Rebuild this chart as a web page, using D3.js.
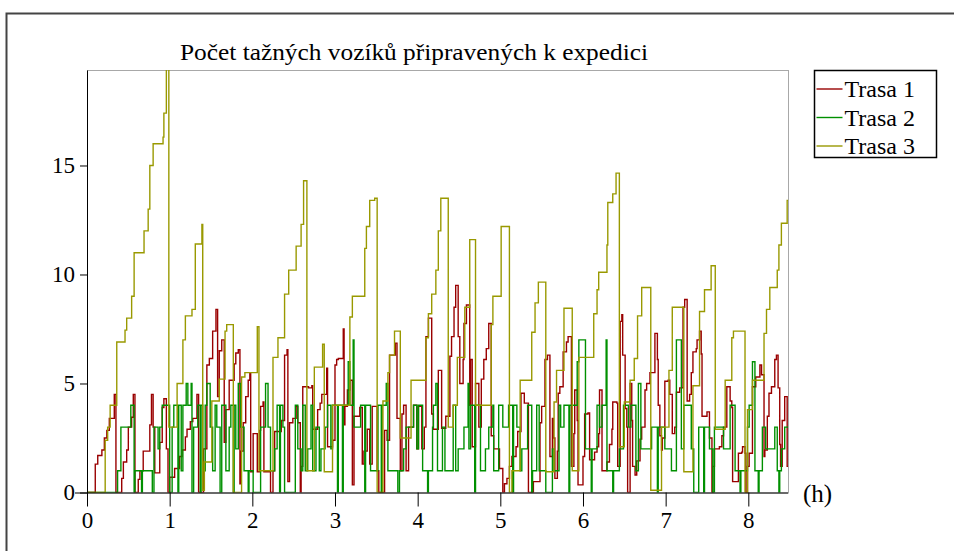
<!DOCTYPE html>
<html>
<head>
<meta charset="utf-8">
<script src="https://cdn.jsdelivr.net/npm/d3@7"></script>
<style>
  body { margin: 0; background: #fff; }
  svg { display: block; }
  text { font-family: "Liberation Serif", "Times New Roman", serif; fill: #000; }
</style>
</head>
<body>
<div id="wrapper"></div>
<script>
// data: [hours, count], drawn as step lines
const seriesNames = ["Trasa 1", "Trasa 2", "Trasa 3"]
const seriesColors = ["#990000", "#009000", "#999900"]

const trasa1 = [[0,0],[.10,1.3],[.13,1.7],[.18,1.95],[.21,2.5],[.24,2.85],[.27,3.4],[.33,4.5],[.35,0],[.42,.65],[.44,1.4],[.48,1.95],[.50,3.0],[.54,3.45],[.56,4.5],[.58,0],[.62,.6],[.64,1.0],[.68,1.9],[.76,3.1],[.78,4.5],[.80,3.0],[.82,.9],[.88,2.3],[.91,3.9],[.93,4.3],[.96,2.0],[.98,0],[1.00,.7],[1.06,1.1],[1.12,1.65],[1.15,1.95],[1.19,2.55],[1.21,2.9],[1.25,3.25],[1.28,3.4],[1.33,4.5],[1.35,0],[1.41,2.0],[1.45,5.85],[1.48,6.15],[1.52,7.4],[1.56,8.4],[1.58,4.4],[1.60,6.5],[1.63,7.0],[1.66,2.3],[1.68,3.8],[1.72,5.15],[1.78,5.9],[1.80,6.4],[1.83,6.55],[1.85,.4],[1.86,1.9],[1.89,3.2],[1.92,4.4],[1.95,5.15],[1.97,5.45],[1.98,.95],[2.01,2.7],[2.06,.95],[2.09,2.85],[2.10,3.95],[2.13,4.15],[2.14,.95],[2.22,0],[2.25,1.0],[2.27,2.8],[2.35,3.3],[2.39,6.3],[2.42,6.55],[2.43,.5],[2.45,3.2],[2.49,3.4],[2.53,3.95],[2.55,3.2],[2.58,0],[2.59,1.2],[2.61,4.85],[2.68,4.8],[2.72,4.9],[2.73,2.9],[2.79,3.8],[2.82,4.1],[2.84,4.5],[2.90,5.7],[2.91,2.1],[2.97,2.4],[3.00,5.85],[3.02,6.1],[3.04,6.15],[3.10,7.5],[3.11,3.1],[3.12,3.95],[3.15,4.7],[3.18,5.15],[3.21,.35],[3.23,3.5],[3.30,3.9],[3.33,1.3],[3.35,1.9],[3.39,2.9],[3.42,1.3],[3.45,3.95],[3.51,1.0],[3.53,0],[3.60,2.85],[3.63,2.4],[3.66,6.3],[3.73,6.85],[3.75,3.4],[3.79,1.0],[3.81,3.6],[3.83,4.0],[3.86,1.0],[3.89,3.0],[3.95,4.0],[3.99,2.0],[4.01,3.95],[4.05,2.0],[4.08,3.0],[4.10,7.15],[4.13,8.0],[4.17,3.6],[4.19,2.9],[4.25,5.6],[4.29,2.95],[4.34,3.5],[4.39,6.25],[4.41,7.15],[4.44,8.5],[4.46,9.5],[4.49,7.15],[4.51,5.0],[4.55,6.1],[4.56,7.75],[4.59,8.6],[4.63,4.0],[4.64,6.1],[4.66,2.1],[4.70,5.0],[4.74,3.0],[4.77,5.2],[4.80,6.1],[4.83,6.6],[4.86,7.75],[4.89,2.6],[4.92,2.0],[4.99,1.1],[5.03,0],[5.05,.4],[5.08,.65],[5.11,1.2],[5.14,1.65],[5.19,2.1],[5.21,2.8],[5.25,4.55],[5.29,4.1],[5.34,0],[5.40,.5],[5.48,3.2],[5.50,3.95],[5.54,6.1],[5.57,6.3],[5.60,1.65],[5.63,3.4],[5.64,2.5],[5.66,.65],[5.69,1.9],[5.70,4.55],[5.72,4.85],[5.76,6.45],[5.80,6.9],[5.82,7.15],[5.86,1.2],[5.89,2.7],[5.90,4.7],[5.93,3.3],[5.94,.35],[6.00,1.65],[6.02,3.6],[6.06,3.65],[6.08,1.5],[6.14,1.85],[6.17,2.1],[6.19,2.7],[6.20,4.7],[6.23,1.0],[6.29,1.4],[6.32,2.2],[6.35,2.9],[6.36,4.15],[6.41,4.1],[6.42,1.2],[6.45,7.85],[6.47,8.15],[6.48,6.3],[6.51,3.85],[6.53,3.0],[6.54,0],[6.57,5.0],[6.59,3.3],[6.60,1.2],[6.63,.8],[6.65,1.45],[6.69,2.45],[6.71,3.0],[6.75,4.7],[6.77,5.0],[6.81,5.5],[6.87,7.3],[6.90,6.1],[6.91,4.0],[6.93,2.6],[6.95,1.95],[6.96,2.5],[6.99,5.1],[7.03,5.15],[7.05,4.5],[7.08,2.7],[7.11,3.0],[7.13,4.6],[7.17,4.8],[7.21,8.5],[7.23,8.85],[7.26,4.2],[7.29,4.5],[7.31,5.5],[7.33,6.45],[7.37,6.6],[7.38,7.0],[7.41,7.4],[7.43,6.35],[7.44,3.5],[7.50,3.7],[7.53,2.5],[7.56,0],[7.57,1.2],[7.59,2.0],[7.65,2.1],[7.68,2.6],[7.70,3.0],[7.74,4.85],[7.78,4.2],[7.80,3.9],[7.81,.5],[7.88,1.8],[7.92,1.85],[7.93,2.1],[7.96,1.8],[7.97,0],[7.99,1.2],[8.01,1.8],[8.05,4.85],[8.09,5.3],[8.14,5.85],[8.16,5.4],[8.19,1.65],[8.20,1.95],[8.23,3.5],[8.25,4.55],[8.28,4.85],[8.32,6.1],[8.34,6.3],[8.36,4.8],[8.38,2.2],[8.39,1.2],[8.41,3.3],[8.44,4.4],[8.47,1.2],[8.5,1.2]]

const trasa2 = [[0,0],[.37,1],[.41,3],[.53,4],[.57,0],[.58,1],[.66,0],[.67,1],[.79,0],[.81,3],[.86,2],[.88,3],[.91,4],[1.00,0],[1.03,3],[1.05,4],[1.10,0],[1.11,4],[1.14,1],[1.16,4],[1.20,5],[1.22,4],[1.26,5],[1.27,0],[1.29,3],[1.34,4],[1.37,0],[1.38,4],[1.40,1],[1.43,4],[1.45,5],[1.49,3],[1.52,1],[1.55,4],[1.57,3],[1.61,0],[1.63,4],[1.68,1],[1.72,3],[1.74,4],[1.77,0],[1.78,4],[1.80,2],[1.83,5],[1.86,3],[1.90,1],[1.95,0],[1.96,1],[2.01,0],[2.10,3],[2.16,5],[2.19,3],[2.22,1],[2.27,2],[2.30,4],[2.33,0],[2.34,4],[2.37,3],[2.39,0],[2.52,4],[2.55,2],[2.59,1],[2.61,4],[2.64,1],[2.67,2],[2.71,4],[2.73,1],[2.77,3],[2.81,1],[2.83,2],[2.88,3],[2.91,4],[2.95,2],[2.97,4],[3.03,0],[3.04,4],[3.09,0],[3.10,4],[3.16,6],[3.18,4],[3.22,7],[3.23,3],[3.31,4],[3.36,0],[3.37,4],[3.43,1],[3.52,4],[3.56,0],[3.57,4],[3.62,5],[3.64,1],[3.76,0],[3.78,1],[3.83,2],[3.86,3],[3.95,4],[3.99,2],[4.01,4],[4.06,1],[4.12,0],[4.13,1],[4.18,3],[4.19,4],[4.22,5],[4.24,1],[4.30,3],[4.33,1],[4.43,4],[4.46,1],[4.49,2],[4.56,3],[4.61,5],[4.62,2],[4.64,4],[4.69,0],[4.70,4],[4.76,1],[4.82,2],[4.86,3],[4.91,4],[4.92,1],[4.98,4],[5.03,3],[5.10,4],[5.15,0],[5.16,4],[5.20,3],[5.24,1],[5.26,2],[5.33,4],[5.38,0],[5.39,1],[5.44,4],[5.47,1],[5.55,0],[5.63,2],[5.65,1],[5.71,4],[5.73,3],[5.77,4],[5.83,0],[5.84,4],[5.93,6],[5.95,7],[6.03,2],[6.10,0],[6.11,2],[6.17,4],[6.20,3],[6.23,4],[6.28,7],[6.29,1],[6.36,0],[6.37,1],[6.44,2],[6.49,4],[6.55,3],[6.58,4],[6.64,1],[6.67,5],[6.70,2],[6.83,3],[6.90,0],[6.91,3],[6.99,2],[7.07,1],[7.13,7],[7.19,2],[7.22,4],[7.31,2],[7.34,0],[7.40,3],[7.46,0],[7.47,3],[7.53,2],[7.57,0],[7.59,3],[7.70,2],[7.78,4],[7.84,1],[7.90,0],[7.91,1],[7.99,3],[8.01,4],[8.05,6],[8.08,1],[8.12,0],[8.13,1],[8.17,3],[8.21,2],[8.32,3],[8.35,1],[8.37,0],[8.38,1],[8.40,2],[8.44,3],[8.5,3]]

const trasa3 = [[0,0],[.22,2.4],[.25,3.0],[.28,4.0],[.36,6.9],[.46,7.45],[.48,8.0],[.54,9.0],[.57,11.0],[.69,12.0],[.74,13.0],[.76,15.0],[.80,16.0],[.92,16.3],[.93,17.4],[.96,20.5],[.99,3.0],[1.09,5.0],[1.16,7.0],[1.19,8.1],[1.27,8.4],[1.31,11.4],[1.39,12.3],[1.40,.1],[1.42,1.4],[1.51,4.2],[1.60,5.2],[1.67,7.4],[1.69,7.7],[1.77,0],[1.87,5.3],[1.91,5.5],[2.06,7.6],[2.08,1.0],[2.25,6.2],[2.31,7.1],[2.39,9.1],[2.44,10.2],[2.53,11.3],[2.59,12.3],[2.62,14.3],[2.66,1.0],[2.75,5.75],[2.85,6.8],[2.87,.95],[2.97,4.0],[3.18,8.05],[3.21,9.0],[3.36,11.2],[3.38,12.2],[3.42,13.4],[3.48,13.5],[3.51,0],[3.58,4.2],[3.64,5.5],[3.66,6.3],[3.72,7.4],[3.79,2.5],[3.92,5.15],[4.10,7.1],[4.13,8.2],[4.17,9.1],[4.22,10.2],[4.25,12.0],[4.28,13.5],[4.37,3.0],[4.43,4.0],[4.48,6.2],[4.57,8.5],[4.63,11.6],[4.70,4.0],[4.89,7.7],[4.91,9.0],[5.01,12.2],[5.11,0],[5.14,1.0],[5.24,5.15],[5.38,7.35],[5.42,8.7],[5.46,9.65],[5.55,.95],[5.65,4.15],[5.68,5.6],[5.77,8.45],[5.87,1.0],[5.95,6.2],[6.13,8.2],[6.17,9.3],[6.19,10.1],[6.29,11.35],[6.30,13.3],[6.36,13.7],[6.40,14.65],[6.44,2.1],[6.50,4.15],[6.57,5.15],[6.62,6.15],[6.66,8.1],[6.71,9.4],[6.82,.1],[6.95,3.0],[7.04,5.6],[7.08,8.5],[7.22,.95],[7.33,4.9],[7.41,8.3],[7.47,9.3],[7.55,10.4],[7.60,2.9],[7.72,5.15],[7.80,7.1],[7.82,7.4],[7.96,0],[7.99,3.8],[8.05,5.15],[8.19,7.3],[8.22,8.4],[8.26,9.4],[8.35,10.2],[8.37,11.35],[8.40,12.35],[8.47,13.4],[8.5,13.4]]

const xTicks = [0, 1, 2, 3, 4, 5, 6, 7, 8]
const yTicks = [0, 5, 10, 15]
const chartTitle = "Počet tažných vozíků připravených k expedici"
const xUnit = "(h)"

function drawChart() {
  const dataset = [trasa1, trasa2, trasa3]
  const xAccessor = d => d[0]
  const yAccessor = d => d[1]

  let dimensions = {
    width: 954,
    height: 551,
    margin: {
      top: 70,
      right: 166,
      bottom: 58.5,
      left: 87,
    },
  }
  dimensions.boundedWidth = dimensions.width - dimensions.margin.left - dimensions.margin.right
  dimensions.boundedHeight = dimensions.height - dimensions.margin.top - dimensions.margin.bottom

  const wrapper = d3.select("#wrapper")
    .append("svg")
      .attr("width", dimensions.width)
      .attr("height", dimensions.height)

  // outer frame
  wrapper.append("rect")
      .attr("x", 6.5)
      .attr("y", 13.5)
      .attr("width", 1000)
      .attr("height", 1000)
      .attr("fill", "none")
      .attr("stroke", "#444")
      .attr("stroke-width", 2)

  wrapper.append("text")
      .attr("x", 414)
      .attr("y", 60)
      .attr("text-anchor", "middle")
      .attr("font-size", 24)
      .attr("textLength", 468)
      .attr("lengthAdjust", "spacingAndGlyphs")
      .text(chartTitle)

  const bounds = wrapper.append("g")
      .attr("transform", `translate(${dimensions.margin.left}, ${dimensions.margin.top})`)

  // scales
  const xScale = d3.scaleLinear()
    .domain([0, 8.48])
    .range([0, dimensions.boundedWidth])

  const yScale = d3.scaleLinear()
    .domain([0, 19.38])
    .range([dimensions.boundedHeight, 0])

  // plot frame (grey top + right)
  bounds.append("rect")
      .attr("x", 0.5)
      .attr("y", 0.5)
      .attr("width", dimensions.boundedWidth)
      .attr("height", dimensions.boundedHeight)
      .attr("fill", "none")
      .attr("stroke", "#a8a8a8")

  bounds.append("clipPath")
      .attr("id", "plot-clip")
    .append("rect")
      .attr("width", dimensions.boundedWidth)
      .attr("height", dimensions.boundedHeight)

  const lineGenerator = d3.line()
    .x(d => xScale(xAccessor(d)))
    .y(d => yScale(yAccessor(d)))
    .curve(d3.curveStepAfter)

  bounds.append("g")
      .attr("clip-path", "url(#plot-clip)")
    .selectAll("path")
    .data(dataset)
    .join("path")
      .attr("d", lineGenerator)
      .attr("fill", "none")
      .attr("stroke", (d, i) => seriesColors[i])
      .attr("stroke-width", 1.4)

  // axes
  const yAxisGenerator = d3.axisLeft()
    .scale(yScale)
    .tickValues(yTicks)
    .tickSize(7)
    .tickSizeOuter(0)
    .tickPadding(5)

  const yAxis = bounds.append("g")
    .call(yAxisGenerator)
  yAxis.selectAll("text")
      .attr("font-size", 23)
      .attr("font-family", "Liberation Serif")
  yAxis.selectAll("line, path").attr("stroke", "#000")

  const xAxisGenerator = d3.axisBottom()
    .scale(xScale)
    .tickValues(xTicks)
    .tickSize(14)
    .tickSizeOuter(0)
    .tickPadding(5)

  const xAxis = bounds.append("g")
    .attr("transform", `translate(0, ${dimensions.boundedHeight})`)
    .call(xAxisGenerator)
  xAxis.select(".domain").remove()
  xAxis.selectAll("text")
      .attr("font-size", 23)
      .attr("font-family", "Liberation Serif")
  xAxis.selectAll("line").attr("stroke", "#000")

  xAxis.append("line")
      .attr("x1", -12)
      .attr("x2", dimensions.boundedWidth)
      .attr("y1", 0.5)
      .attr("y2", 0.5)
      .attr("stroke", "#000")

  xAxis.append("text")
      .attr("x", dimensions.boundedWidth + 15)
      .attr("y", 9)
      .attr("text-anchor", "start")
      .attr("font-size", 25)
      .text(xUnit)

  // legend
  const legend = wrapper.append("g")
      .attr("transform", "translate(814.5, 70.5)")

  legend.append("rect")
      .attr("width", 122)
      .attr("height", 87)
      .attr("fill", "#fff")
      .attr("stroke", "#000")
      .attr("stroke-width", 1.5)

  const legendItems = legend.selectAll(".legend-item")
    .data(seriesNames)
    .join("g")
      .attr("class", "legend-item")
      .attr("transform", (d, i) => `translate(0, ${18.5 + i * 28.5})`)

  legendItems.append("line")
      .attr("x1", 2)
      .attr("x2", 28)
      .attr("stroke", (d, i) => seriesColors[i])
      .attr("stroke-width", 1.4)

  legendItems.append("text")
      .attr("x", 30)
      .attr("y", 8)
      .attr("font-size", 24)
      .text(d => d)
}
drawChart()
</script>
</body>
</html>
